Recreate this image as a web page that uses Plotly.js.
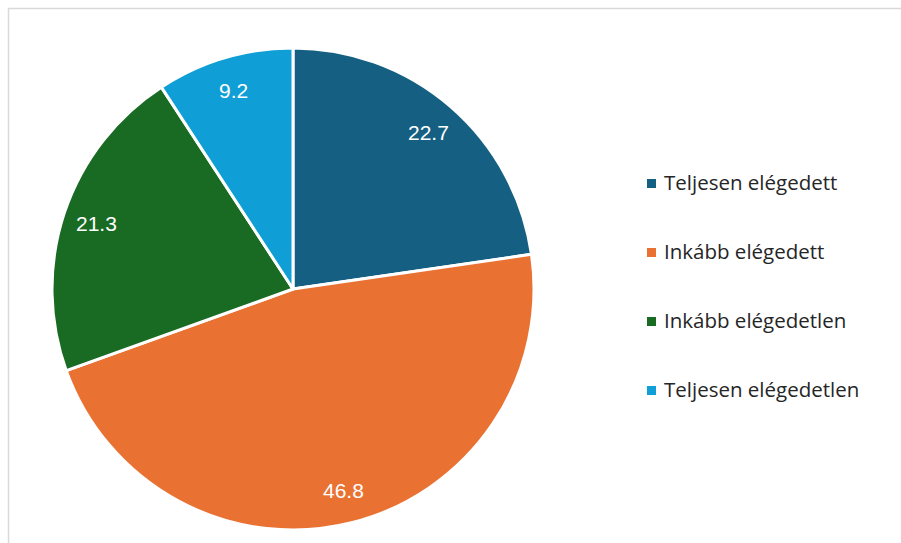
<!DOCTYPE html>
<html>
<head>
<meta charset="utf-8">
<script src="https://cdn.plot.ly/plotly-3.0.1.min.js"></script>
<style>html,body{margin:0;padding:0;background:#fff;}#chart{width:901px;height:543px;}</style>
</head>
<body>
<div id="chart"></div>
<script>
var categories = ["Teljesen elégedett", "Inkább elégedett", "Inkább elégedetlen", "Teljesen elégedetlen"];
var values = [22.7, 46.8, 21.3, 9.2];
var colors = ["#156082", "#E97132", "#196B24", "#0F9ED5"];

var W = 901, H = 543;
var cx = 293, cy = 289, R = 241;

var total = values.reduce(function(a, b){ return a + b; }, 0);
var annotations = [];
var shapes = [];
var cum = 0;
values.forEach(function(v, i){
  var mid = (cum + v / 2) / total * 2 * Math.PI;
  cum += v;
  var px = cx + 0.86 * R * Math.sin(mid);
  var py = cy - 0.86 * R * Math.cos(mid);
  annotations.push({
    x: px / W, y: 1 - py / H, xref: "paper", yref: "paper",
    text: v.toFixed(1), showarrow: false, xanchor: "center", yanchor: "middle",
    font: {family: "Liberation Sans, Arial, sans-serif", size: 21, color: "#ffffff"}
  });
});

// legend
var legX = 647, legY0 = 183.5, legGap = 69, sq = 9;
categories.forEach(function(c, i){
  var y = legY0 + i * legGap;
  shapes.push({
    type: "rect", xref: "paper", yref: "paper",
    x0: legX / W, x1: (legX + sq) / W,
    y0: 1 - (y - sq / 2) / H, y1: 1 - (y + sq / 2) / H,
    fillcolor: colors[i], line: {width: 0}
  });
  annotations.push({
    x: 662 / W, y: 1 - (y - 2) / H, xref: "paper", yref: "paper",
    text: c, showarrow: false, xanchor: "left", yanchor: "middle",
    font: {family: "Open Sans, sans-serif", size: 20.5, color: "#262626"}
  });
});

// chart border
shapes.push({
  type: "rect", xref: "paper", yref: "paper",
  x0: 8.5 / W, x1: 1.05, y0: 1 - 8.5 / H, y1: -0.05,
  line: {color: "#d9d9d9", width: 1.5}, fillcolor: "rgba(0,0,0,0)"
});

var trace = {
  type: "pie",
  labels: categories,
  values: values,
  sort: false,
  direction: "clockwise",
  rotation: 0,
  marker: {colors: colors, line: {color: "#ffffff", width: 3}},
  textinfo: "none",
  hoverinfo: "label+value",
  showlegend: false,
  domain: {x: [(cx - R) / W, (cx + R) / W], y: [(H - cy - R) / H, (H - cy + R) / H]}
};

var layout = {
  width: W, height: H,
  margin: {l: 0, r: 0, t: 0, b: 0},
  paper_bgcolor: "#ffffff",
  showlegend: false,
  annotations: annotations,
  shapes: shapes
};

Plotly.newPlot("chart", [trace], layout, {displayModeBar: false, staticPlot: true});
</script>
</body>
</html>
